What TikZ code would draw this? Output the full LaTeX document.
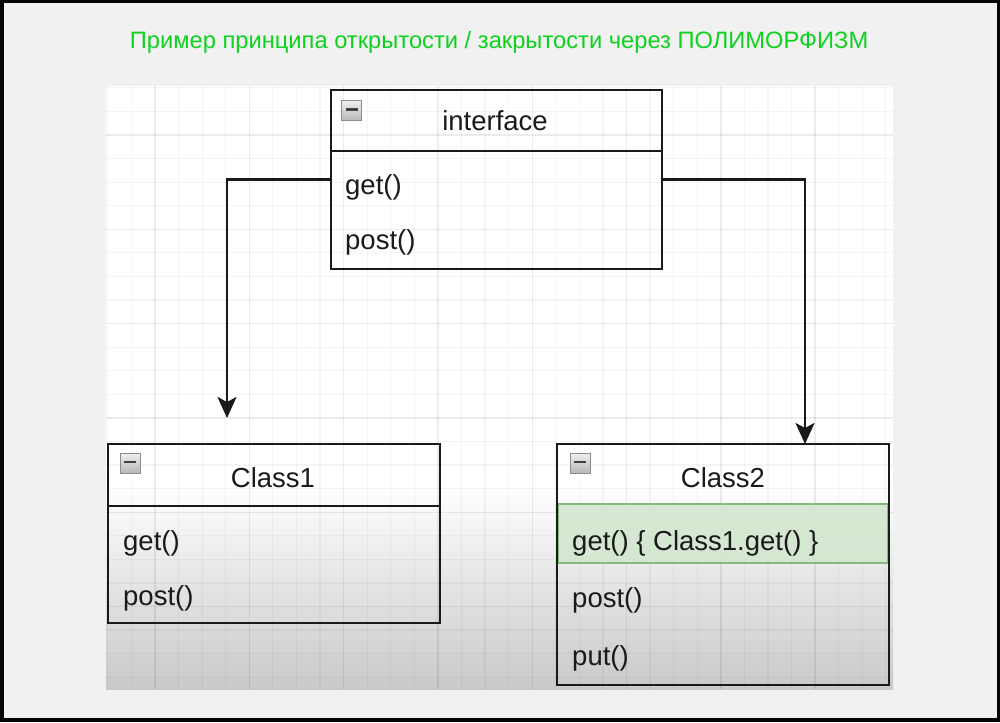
\documentclass[tikz,border=0pt]{standalone}
\usepackage{fontspec}
\setmainfont{Liberation Sans}
\usetikzlibrary{arrows.meta,calc}
\definecolor{frameblack}{HTML}{050505}
\definecolor{pagegray}{HTML}{F1F1F1}
\definecolor{titlegreen}{RGB}{14,210,30}
\definecolor{inkc}{HTML}{1A1A1A}
\definecolor{greenfill}{HTML}{D3E7CF}
\definecolor{greenline}{HTML}{86B97E}
\definecolor{shadebottom}{HTML}{C9C9C9}
\tikzset{
  umlbox/.style={draw=inkc, line width=2.5pt, rectangle, outer sep=0pt, inner sep=0pt},
  umlline/.style={draw=inkc, line width=2.5pt},
  txt/.style={text=inkc, font=\fontsize{27.5}{32}\selectfont, inner sep=0pt, anchor=base west},
  hdr/.style={text=inkc, font=\fontsize{27.5}{32}\selectfont, inner sep=0pt, anchor=base},
  ttl/.style={text=titlegreen, font=\fontsize{23.7}{28}\selectfont, inner sep=0pt},
  icon/.style={rectangle, minimum width=20pt, minimum height=20pt, inner sep=0pt,
    draw=black!45, line width=1pt, top color=black!6, bottom color=black!28},
  arr/.style={draw=inkc, line width=2.6pt, -{Stealth[length=21pt,width=19pt,inset=5pt]}},
  minorgrid/.style={draw=black, draw opacity=0.04, line width=1.2pt},
  majorgrid/.style={draw=black, draw opacity=0.075, line width=1.4pt},
}
\begin{document}
\begin{tikzpicture}[x=1pt,y=-1pt]
\useasboundingbox (0,0) rectangle (1000,722);
% frame
\fill[frameblack] (0,0) rectangle (1000,722);
\fill[pagegray] (3.5,3.5) rectangle (996.5,718);
% title
\node[ttl] (title) at (499,42) {Пример принципа открытости / закрытости через ПОЛИМОРФИЗМ};
% screenshot area
\fill[white] (106,86) rectangle (893,689);
\shade[top color=white, bottom color=shadebottom] (106,485) rectangle (893,689);
\begin{scope}
\clip (106,86) rectangle (893,689);
\foreach \i in {-2,...,31} {
  \pgfmathtruncatemacro{\m}{mod(\i+8,4)}
  \ifnum\m=0
    \draw[majorgrid] ({155+23.575*\i},86) -- ({155+23.575*\i},689);
  \else
    \draw[minorgrid] ({155+23.575*\i},86) -- ({155+23.575*\i},689);
  \fi
}
\foreach \j in {-2,...,23} {
  \pgfmathtruncatemacro{\m}{mod(\j+8,4)}
  \ifnum\m=0
    \draw[majorgrid] (106,{135+23.575*\j}) -- (893,{135+23.575*\j});
  \else
    \draw[minorgrid] (106,{135+23.575*\j}) -- (893,{135+23.575*\j});
  \fi
}
\end{scope}
% green row of Class2
\node[rectangle, minimum width=330pt, minimum height=59pt, inner sep=0pt,
  fill=greenfill, fill opacity=0.9, draw=greenline, line width=2pt] (grow) at (723,533.5) {};
% boxes
\node[umlbox, minimum width=331pt, minimum height=179pt] (iface) at (496.5,179.5) {};
\node[umlbox, minimum width=332pt, minimum height=179pt] (cone) at (274,533.5) {};
\node[umlbox, minimum width=332pt, minimum height=241pt] (ctwo) at (723,564.5) {};
% dividers
\draw[umlline] ($(iface.north west)+(0,61)$) -- ($(iface.north east)+(0,61)$);
\draw[umlline] ($(cone.north west)+(0,62)$) -- ($(cone.north east)+(0,62)$);
% icons
\node[icon] (ic0) at (351.5,110.5) {};
\draw[draw=black!75, line width=2.2pt] ($(ic0.center)+(-6,-1)$) -- ($(ic0.center)+(6,-1)$);
\node[icon] (ic1) at (130,463) {};
\draw[draw=black!75, line width=2.2pt] ($(ic1.center)+(-6,-1)$) -- ($(ic1.center)+(6,-1)$);
\node[icon] (ic2) at (580,463) {};
\draw[draw=black!75, line width=2.2pt] ($(ic2.center)+(-6,-1)$) -- ($(ic2.center)+(6,-1)$);
% texts
\node[hdr] (tif) at (495,131) {interface};
\node[txt] (tif1) at (345,194) {get()};
\node[txt] (tif2) at (345,249) {post()};
\node[hdr] (tc1) at (273,487) {Class1};
\node[txt] (tc11) at (123,550) {get()};
\node[txt] (tc12) at (123,605) {post()};
\node[hdr] (tc2) at (723,487) {Class2};
\node[txt] (tc21) at (572,550) {get() \{ Class1.get() \}};
\node[txt] (tc22) at (572,607) {post()};
\node[txt] (tc23) at (572,665) {put()};
% connectors
\coordinate (leftend) at (227,418);
\draw[arr] (iface.west) -| (leftend);
\draw[arr] (iface.east) -| ([xshift=82pt]ctwo.north);
\end{tikzpicture}
\end{document}
